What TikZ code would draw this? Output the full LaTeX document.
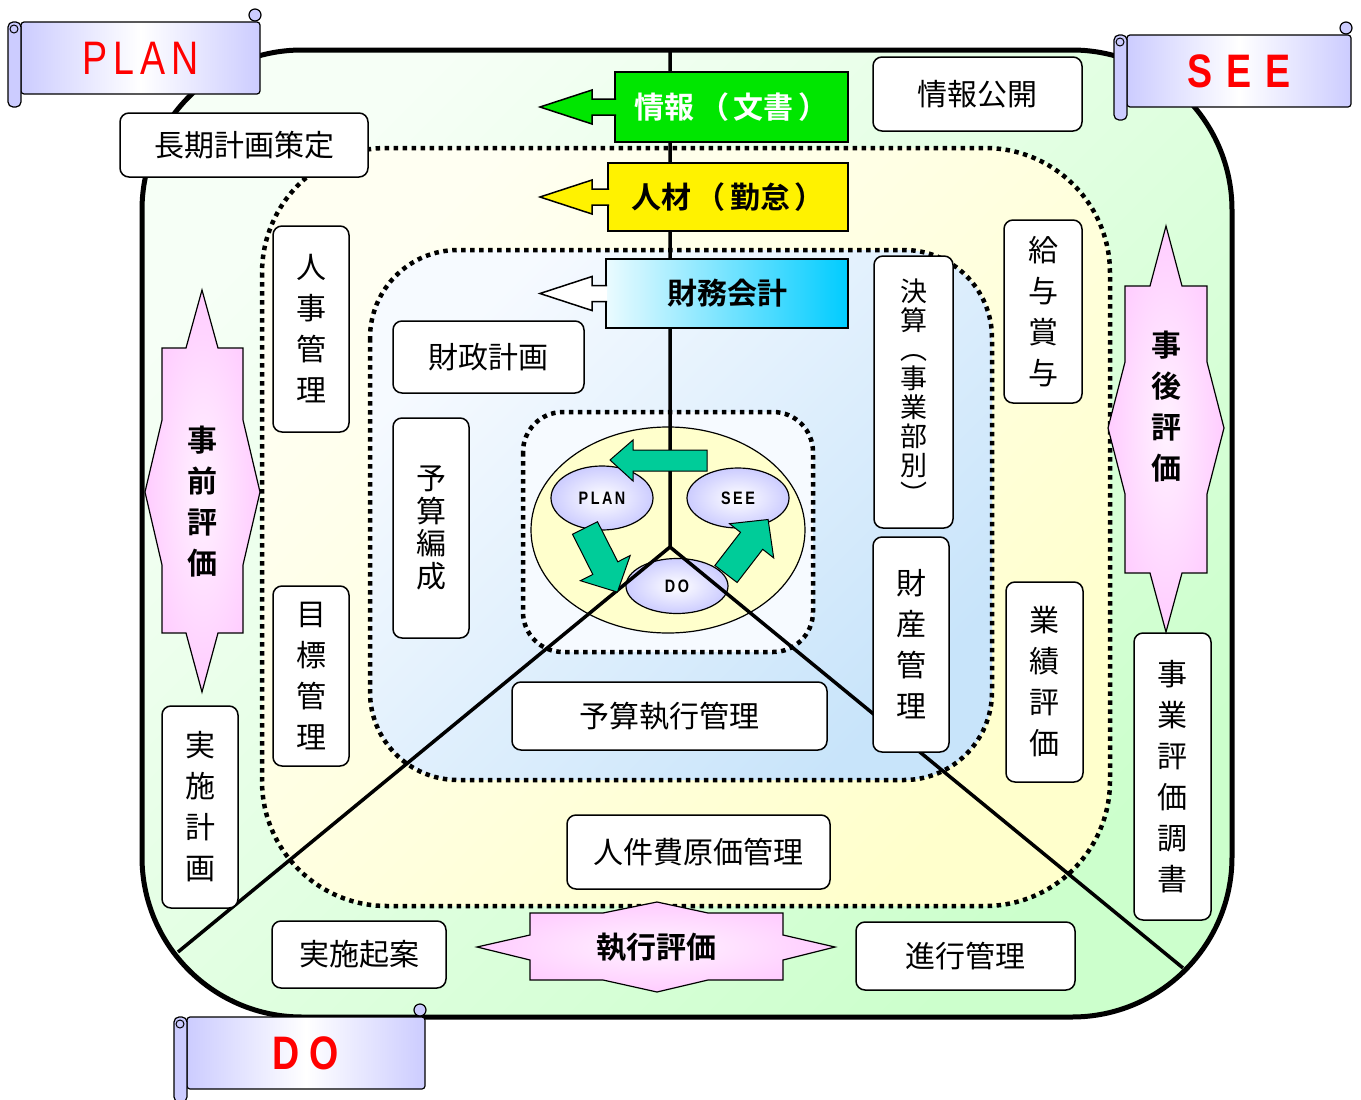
\documentclass[tikz,border=0pt]{standalone}
\usepackage{fontspec}
\setmainfont{Noto Sans CJK JP}[BoldFont={Noto Sans CJK JP Bold},Kerning=Off]
\newfontfamily\bannerfont{Liberation Sans}[FakeStretch=0.8]
\usetikzlibrary{shapes.geometric}
\definecolor{palegreen}{RGB}{246,255,246}
\definecolor{outergreen}{RGB}{204,255,204}
\definecolor{lightyellow}{RGB}{255,255,242}
\definecolor{paleyellow}{RGB}{255,255,204}
\definecolor{lightblue}{RGB}{246,250,255}
\definecolor{paleblue}{RGB}{200,228,250}
\definecolor{centerfill}{RGB}{246,250,255}
\definecolor{lavender}{RGB}{204,204,255}
\definecolor{pinkstar}{RGB}{255,204,255}
\definecolor{cyclegreen}{RGB}{0,204,153}
\definecolor{infogreen}{RGB}{0,230,0}
\definecolor{skyblue}{RGB}{0,204,255}
\tikzset{
	pics/scroll/.style args={#1/#2}{code={
		\filldraw[fill=lavender,line width=1.2pt] (#1-5,-7) circle[radius=6pt];
		\shadedraw[line width=1.2pt,left color=lavender,right color=lavender,middle color=white,rounded corners=3pt] (0,0) rectangle (#1,72);
		\filldraw[fill=lavender,line width=1.2pt,rounded corners=5pt] (-13,0) rectangle (0,85);
		\draw[line width=1pt] (-7,7) circle[radius=4pt];
		\node[bannertext] (-text) at (#1/2,36) {#2};
	}}
}

\begin{document}
\begin{tikzpicture}[x=1pt,y=-1pt,
	box/.style={draw,fill=white,rounded corners=9pt,line width=1.5pt,inner sep=0pt,align=center,font=\fontsize{30}{41}\selectfont},
	tab/.style={draw,line width=1.5pt,inner sep=0pt,font=\bfseries\fontsize{30}{36}\selectfont},
	dotline/.style={line width=4.5pt,dash pattern=on 4.5pt off 4.5pt},
	spoke/.style={line width=3.5pt},
	evalshape/.style={line width=1.2pt,inner color=pinkstar!25,outer color=pinkstar},
	evaltext/.style={align=center,font=\bfseries\fontsize{30}{41}\selectfont},
	cycleball/.style={ellipse,draw,line width=1.2pt,inner color=white,outer color=lavender,inner sep=0pt,font=\bannerfont\bfseries\fontsize{18}{18}\selectfont},
	cyclearrow/.style={fill=cyclegreen,draw,line width=1pt},
	bannertext/.style={text=red,font=\bannerfont\fontsize{47}{47}\selectfont}]

	\useasboundingbox (0,0) rectangle (1361,1100);

	\shadedraw[line width=5pt,rounded corners=160pt,top color=palegreen,bottom color=outergreen,shading angle=45] (142,50) rectangle (1232,1017);
	\shadedraw[dotline,rounded corners=125pt,top color=lightyellow,bottom color=paleyellow,shading angle=45] (262,148) rectangle (1110,906);
	\shadedraw[dotline,rounded corners=88pt,top color=lightblue,bottom color=paleblue,shading angle=45] (370,250) rectangle (992,780);
	\filldraw[dotline,fill=centerfill,rounded corners=40pt] (523,412) rectangle (813,652);

	\node[ellipse,draw,line width=1.2pt,fill=paleyellow,minimum width=274,minimum height=206,inner sep=0pt] (core) at (668,530) {};
	\node[cycleball,minimum width=102,minimum height=64] (cplan) at (602,498) {P\hspace{2.5pt}L\hspace{2.5pt}A\hspace{2.5pt}N};
	\node[cycleball,minimum width=102,minimum height=60] (csee) at (738,498) {S\hspace{2.5pt}E\hspace{2.5pt}E};
	\node[cycleball,minimum width=102,minimum height=55] (cdo) at (677,586) {D\hspace{2.5pt}O};

	\coordinate (hub) at (670,547);
	\coordinate (crown) at (670,50);
	\coordinate (footl) at (178,952);
	\coordinate (footr) at (1183,968);
	\draw[spoke] (crown) -- (hub) -- (footl);
	\draw[spoke] (hub) -- (footr);

	\filldraw[cyclearrow] (707,450) -- (633,450) -- (633,440) -- (610,460) -- (633,481) -- (633,471) -- (707,471) -- cycle;
	\filldraw[cyclearrow] (597.5,521.7) -- (617.8,561.8) -- (630.2,555.5) -- (617.4,592.1) -- (580.4,580.7) -- (592.8,574.4) -- (572.5,534.3) -- cycle;
	\filldraw[cyclearrow] (737.1,582.5) -- (762.7,549.3) -- (773.7,557.9) -- (768.1,519.5) -- (729.5,523.7) -- (740.5,532.3) -- (714.9,565.5) -- cycle;

	\node[tab,fill=infogreen,text=white,minimum width=233,minimum height=70] (info) at (731.5,107) {情報\hspace{5pt}（\hspace{4pt}文書\hspace{5pt}）\hspace{14pt}};
	\filldraw[fill=infogreen,line width=1.5pt] (616,99) -- (592,99) -- (592,90) -- (540,107) -- (592,124) -- (592,115) -- (616,115);
	\node[tab,fill=yellow,minimum width=240,minimum height=68] (staff) at (728,197) {人材\hspace{5pt}（\hspace{4pt}勤怠\hspace{5pt}）\hspace{10pt}};
	\filldraw[fill=yellow,line width=1.5pt] (609,189) -- (592,189) -- (592,180) -- (540,197) -- (592,214) -- (592,205) -- (609,205);
	\node[tab,left color=skyblue!8,right color=skyblue,minimum width=242,minimum height=69] (finance) at (727,293.5) {財務会計};
	\filldraw[fill=white,line width=1.5pt] (607,285.5) -- (592,285.5) -- (592,276.5) -- (540,293.5) -- (592,310.5) -- (592,301.5) -- (607,301.5);

	\node[box,minimum width=248,minimum height=64] (longterm) at (244,145) {長期計画策定};
	\node[box,minimum width=209,minimum height=74] (disclose) at (977.5,94) {情報公開};
	\node[box,minimum width=76,minimum height=206] (personnel) at (311,329) {人\\事\\管\\理};
	\node[box,minimum width=76,minimum height=180] (target) at (311,676) {目\\標\\管\\理};
	\node[box,minimum width=191,minimum height=72] (fiscal) at (488.5,357) {財政計画};
	\node[box,minimum width=76,minimum height=220,font=\fontsize{30}{32.5}\selectfont] (budget) at (431,528) {予\\算\\編\\成};
	\node[box,minimum width=79,minimum height=272,font=\fontsize{27}{29}\selectfont] (closing) at (913.5,392) {決\\算\\︵\\事\\業\\部\\別\\︶};
	\node[box,minimum width=76,minimum height=215] (assets) at (911,644.5) {財\\産\\管\\理};
	\node[box,minimum width=78,minimum height=183] (salary) at (1043,311.5) {給\\与\\賞\\与};
	\node[box,minimum width=77,minimum height=200] (results) at (1044.5,682) {業\\績\\評\\価};
	\node[box,minimum width=77,minimum height=287] (report) at (1172.5,776.5) {事\\業\\評\\価\\調\\書};
	\node[box,minimum width=76,minimum height=202] (plan) at (200,807) {実\\施\\計\\画};
	\node[box,minimum width=315,minimum height=68] (execution) at (669.5,716) {予算執行管理};
	\node[box,minimum width=263,minimum height=74] (labour) at (698.5,852) {人件費原価管理};
	\node[box,minimum width=174,minimum height=67] (proposal) at (359,954.5) {実施起案};
	\node[box,minimum width=219,minimum height=68] (progress) at (965.5,956) {進行管理};

	\shadedraw[evalshape] (202,290) -- (218,348) -- (243,348) -- (243,420) -- (260,492) -- (243,565) -- (243,633) -- (218,633) -- (202,692) -- (186,633) -- (162,633) -- (162,565) -- (145,492) -- (162,420) -- (162,348) -- (186,348) -- cycle;
	\node[evaltext] (before) at (202,502) {事\\前\\評\\価};
	\shadedraw[evalshape] (1166,226) -- (1182,286) -- (1207,286) -- (1207,362) -- (1224,428) -- (1207,494) -- (1207,573) -- (1182,573) -- (1166,632) -- (1150,573) -- (1125,573) -- (1125,494) -- (1108,428) -- (1125,362) -- (1125,286) -- (1150,286) -- cycle;
	\node[evaltext] (after) at (1166,407) {事\\後\\評\\価};
	\shadedraw[evalshape] (477,947) -- (530,935) -- (530,913) -- (603,913) -- (657,902) -- (708,913) -- (783,913) -- (783,935) -- (835,947) -- (783,960) -- (783,980) -- (708,980) -- (657,992) -- (603,980) -- (530,980) -- (530,960) -- cycle;
	\node[evaltext] (review) at (656,947) {執行評価};

	\pic (bplan) at (21,22) {scroll={239/P\hspace{6pt}L\hspace{6pt}A\hspace{6pt}N}};
	\pic (bsee) at (1127,35) {scroll={224/\bfseries S\hspace{14pt}E\hspace{14pt}E}};
	\pic (bdo) at (187,1017) {scroll={238/\bfseries D\hspace{10pt}O}};
\end{tikzpicture}
\end{document}
